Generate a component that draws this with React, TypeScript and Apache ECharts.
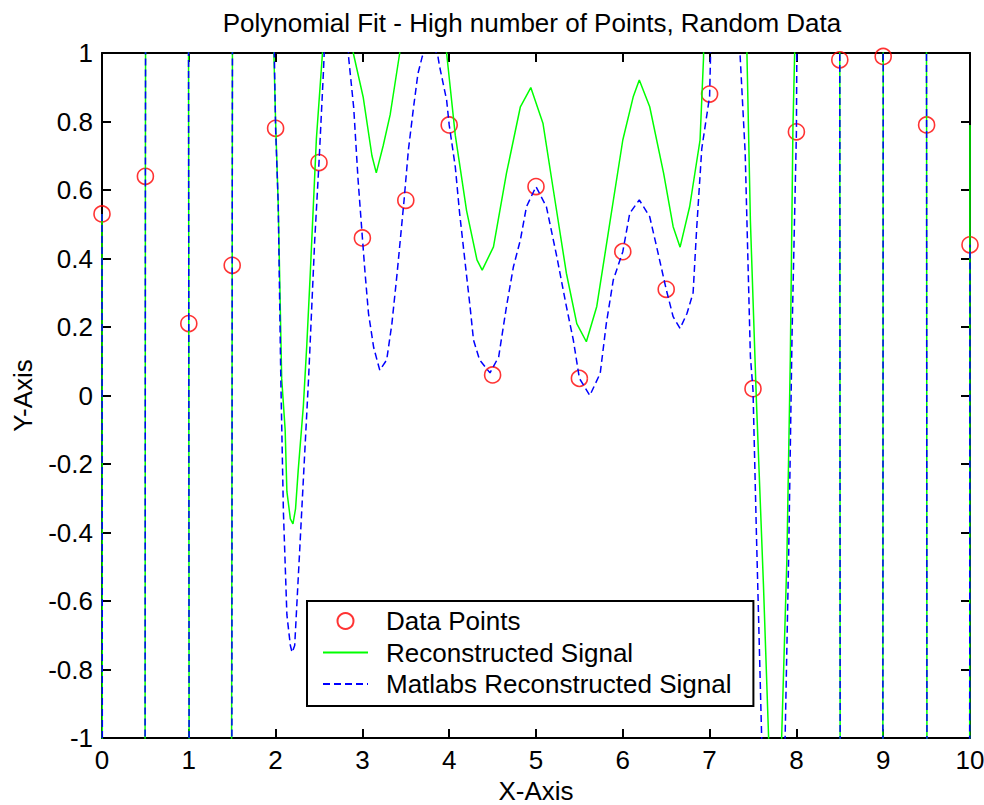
import React, { useEffect, useRef } from "react";
import * as echarts from "echarts";

const FONT = "'Liberation Sans', Arial, Helvetica, sans-serif";

const titleText = "Polynomial Fit - High number of Points, Random Data";
const xAxisName = "X-Axis";
const yAxisName = "Y-Axis";
const seriesNames = ["Data Points", "Reconstructed Signal", "Matlabs Reconstructed Signal"];

// sample positions (x) and random data values (y)
const pointX = [0, 0.5, 1, 1.5, 2, 2.5, 3, 3.5, 4, 4.5, 5, 5.5, 6, 6.5, 7, 7.5, 8, 8.5, 9, 9.5, 10];
const pointY = [0.53, 0.64, 0.21, 0.38, 0.78, 0.68, 0.46, 0.57, 0.79, 0.06, 0.61, 0.05, 0.42, 0.31, 0.88, 0.02, 0.77, 0.98, 0.99, 0.79, 0.44];

// Reconstructed signal (values beyond +-1 leave the plot)
const reconstructed: [number, number][] = [
  [0, 0.53], [0.005, -1.6], [0.495, -1.6], [0.5, 0.64], [0.505, 1.6], [0.995, 1.6],
  [1.0, 0.21], [1.005, -1.6], [1.49, -1.6], [1.5, 0.38], [1.505, 1.6], [1.975, 1.6],
  [1.98, 1.0], [2.0, 0.8], [2.03, 0.56], [2.07, 0.05], [2.11, -0.1], [2.13, -0.28],
  [2.17, -0.36], [2.2, -0.375], [2.23, -0.33], [2.26, -0.22], [2.32, -0.03], [2.36, 0.15],
  [2.4, 0.36], [2.47, 0.75], [2.54, 1.0], [2.56, 1.6], [2.88, 1.6], [2.895, 1.0],
  [3.01, 0.87], [3.11, 0.7], [3.16, 0.65], [3.24, 0.73], [3.32, 0.82], [3.43, 1.0],
  [3.45, 1.6], [3.95, 1.6], [3.97, 1.0], [4.07, 0.76], [4.2, 0.54], [4.32, 0.396],
  [4.38, 0.366], [4.51, 0.434], [4.66, 0.649], [4.82, 0.843], [4.94, 0.899], [5.08, 0.795],
  [5.2, 0.6], [5.35, 0.357], [5.47, 0.21], [5.58, 0.157], [5.7, 0.26], [5.85, 0.503],
  [6.0, 0.746], [6.12, 0.872], [6.19, 0.921], [6.31, 0.843], [6.47, 0.649], [6.58, 0.493],
  [6.66, 0.433], [6.77, 0.551], [6.89, 0.746], [6.93, 0.985], [6.95, 1.6], [7.41, 1.6],
  [7.43, 1.0], [7.47, 0.51], [7.54, -0.02], [7.62, -0.55], [7.68, -1.0], [7.69, -1.6],
  [7.82, -1.6], [7.83, -1.0], [7.89, -0.48], [7.93, 0.11], [7.96, 0.78], [7.98, 1.0],
  [7.99, 1.6], [8.49, 1.6], [8.5, 0.98], [8.505, -1.6], [8.995, -1.6], [9.0, 0.99],
  [9.005, 1.6], [9.495, 1.6], [9.5, 0.79], [9.505, -1.6], [9.995, -1.6], [10, 0.79],
];

// Matlab's reconstructed signal
const matlabReconstructed: [number, number][] = [
  [0, 0.53], [0.005, -1.6], [0.495, -1.6], [0.5, 0.64], [0.505, 1.6], [0.995, 1.6],
  [1.0, 0.21], [1.005, -1.6], [1.495, -1.6], [1.5, 0.38], [1.505, 1.6], [1.975, 1.6],
  [1.985, 1.0], [2.0, 0.78], [2.03, 0.56], [2.06, 0.05], [2.09, -0.34], [2.13, -0.64],
  [2.17, -0.73], [2.19, -0.75], [2.22, -0.73], [2.28, -0.44], [2.38, 0.05], [2.45, 0.45],
  [2.5, 0.68], [2.55, 0.94], [2.56, 1.0], [2.58, 1.6], [2.82, 1.6], [2.84, 0.99],
  [2.9, 0.84], [2.95, 0.63], [3.0, 0.46], [3.03, 0.36], [3.07, 0.24], [3.13, 0.14],
  [3.2, 0.074], [3.28, 0.104], [3.34, 0.21], [3.4, 0.357], [3.48, 0.57], [3.53, 0.717],
  [3.59, 0.843], [3.64, 0.94], [3.69, 0.99], [3.78, 1.04], [3.87, 0.99], [3.89, 0.96],
  [3.97, 0.863], [4.0, 0.79], [4.07, 0.668], [4.12, 0.532], [4.18, 0.396], [4.24, 0.26],
  [4.28, 0.162], [4.35, 0.104], [4.47, 0.066], [4.57, 0.113], [4.66, 0.26], [4.74, 0.376],
  [4.82, 0.454], [4.89, 0.551], [5.0, 0.61], [5.12, 0.551], [5.24, 0.405], [5.35, 0.26],
  [5.43, 0.162], [5.5, 0.05], [5.62, 0.0], [5.74, 0.065], [5.81, 0.21], [5.89, 0.337],
  [6.0, 0.42], [6.08, 0.532], [6.19, 0.571], [6.31, 0.522], [6.39, 0.434], [6.5, 0.31],
  [6.58, 0.23], [6.66, 0.196], [6.74, 0.24], [6.81, 0.3], [6.85, 0.483], [6.91, 0.721],
  [7.0, 0.873], [7.01, 0.985], [7.02, 1.6], [7.33, 1.6], [7.35, 1.0], [7.41, 0.708],
  [7.47, 0.114], [7.5, 0.016], [7.54, -0.41], [7.6, -1.0], [7.61, -1.6], [7.86, -1.6],
  [7.87, -1.0], [7.91, -0.48], [7.95, 0.18], [8.0, 0.767], [8.005, 1.0], [8.01, 1.6],
  [8.495, 1.6], [8.5, 0.98], [8.505, -1.6], [8.995, -1.6], [9.0, 0.99], [9.005, 1.6],
  [9.495, 1.6], [9.5, 0.79], [9.505, -1.6], [9.995, -1.6], [10, 0.44],
];

const textBase = { fontFamily: FONT, fontSize: 26, color: "#000", fontWeight: "normal" as const };

const axisLine = { show: true, onZero: false, lineStyle: { color: "#000", width: 2 } };
const axisTick = { show: true, inside: true, length: 9, lineStyle: { color: "#000", width: 2 } };

export default function App() {
  const ref = useRef<HTMLDivElement>(null);
  useEffect(() => {
    if (!ref.current) return;
    const chart = echarts.init(ref.current, null, { renderer: "svg" });
    const option: any = {
      animation: false,
      backgroundColor: "#fff",
      title: {
        text: titleText,
        left: 532,
        top: 10,
        padding: 0,
        textAlign: "center",
        textStyle: textBase,
      },
      grid: { left: 102, right: 14, top: 53, bottom: 67, containLabel: false, outerBoundsMode: "none" },
      legend: {
        orient: "vertical",
        left: 307,
        top: 601,
        padding: [7, 22, 9, 15],
        itemWidth: 45,
        itemHeight: 16,
        itemGap: 5.5,
        backgroundColor: "#fff",
        borderColor: "#000",
        borderWidth: 2,
        borderRadius: 0,
        selectedMode: false,
        textStyle: { ...textBase, padding: [0, 0, 0, 13] },
        data: [
          { name: seriesNames[0] },
          { name: seriesNames[1], itemStyle: { opacity: 0 } },
          { name: seriesNames[2], itemStyle: { opacity: 0 } },
        ],
      },
      xAxis: [
        {
          type: "value", position: "bottom", min: 0, max: 10, interval: 1,
          axisLine, axisTick, splitLine: { show: false },
          axisLabel: { ...textBase, margin: 9 },
          name: xAxisName, nameLocation: "middle", nameGap: 36, nameTextStyle: textBase,
        },
        {
          type: "value", position: "top", min: 0, max: 10, interval: 1,
          axisLine, axisTick, splitLine: { show: false }, axisLabel: { show: false },
        },
      ],
      yAxis: [
        {
          type: "value", position: "left", min: -1, max: 1, interval: 0.2,
          axisLine, axisTick, splitLine: { show: false },
          axisLabel: { ...textBase, margin: 9 },
          name: yAxisName, nameLocation: "middle", nameGap: 66, nameTextStyle: textBase,
        },
        {
          type: "value", position: "right", min: -1, max: 1, interval: 0.2,
          axisLine, axisTick, splitLine: { show: false }, axisLabel: { show: false },
        },
      ],
      series: [
        {
          name: seriesNames[0],
          type: "scatter",
          data: pointX.map((x, i) => [x, pointY[i]]),
          symbol: "circle",
          symbolSize: 16,
          itemStyle: { color: "rgba(255,0,0,0)", borderColor: "#ff0000", borderWidth: 1.6 },
          z: 2,
        },
        {
          name: seriesNames[1],
          type: "line",
          data: reconstructed,
          symbol: "none",
          showSymbol: false,
          clip: true,
          itemStyle: { color: "#00ff00" },
          lineStyle: { color: "#00ff00", width: 1.5 },
          z: 3,
        },
        {
          name: seriesNames[2],
          type: "line",
          data: matlabReconstructed,
          symbol: "none",
          showSymbol: false,
          clip: true,
          itemStyle: { color: "#0000ff" },
          lineStyle: { color: "#0000ff", width: 1.5, type: [7, 4] },
          z: 4,
        },
      ],
    };
    chart.setOption(option);
    return () => chart.dispose();
  }, []);
  return (
    <div
      ref={ref}
      style={{ position: "absolute", left: 0, top: 0, width: 984, height: 805, background: "#fff" }}
    />
  );
}
